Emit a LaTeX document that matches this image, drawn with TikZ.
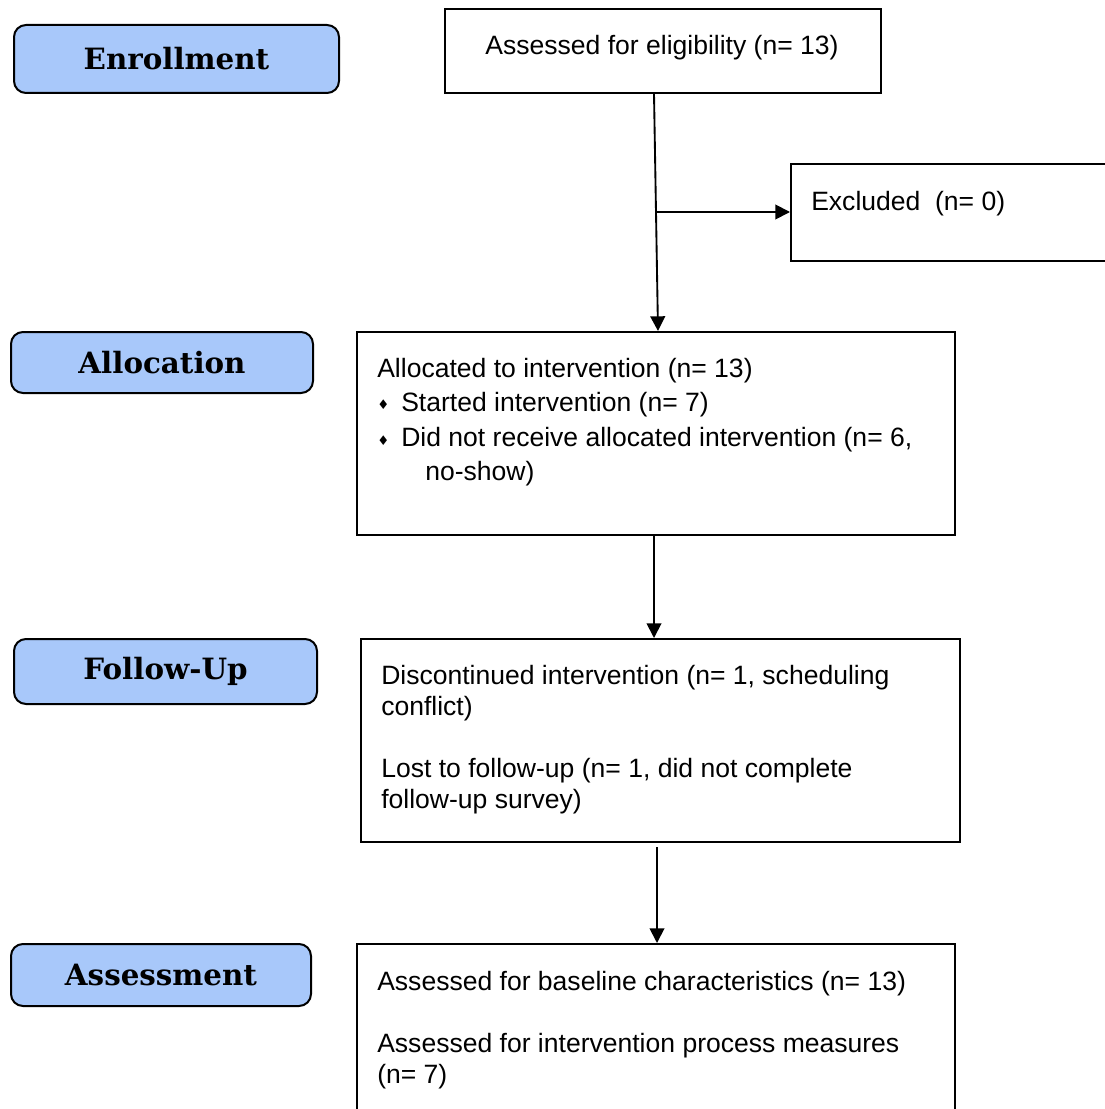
\documentclass[tikz,border=0pt]{standalone}
\usepackage{fontspec}
\setmainfont{Liberation Sans}
\newfontfamily\stagefont{DejaVu Serif}
\newfontfamily\symfont{DejaVu Sans}
\usetikzlibrary{arrows.meta}
\definecolor{stageblue}{HTML}{A8C8FA}
\newcommand{\diabullet}{\makebox[18pt][l]{\raisebox{1pt}{\symfont\fontsize{10}{10}\selectfont ♦}}}
\tikzset{
  stagebox/.style={draw=black, line width=1.5pt, fill=stageblue, rounded corners=9pt, anchor=north west, inner sep=0pt},
  stagetext/.style={font=\stagefont\bfseries\fontsize{22}{26}\selectfont, inner sep=0pt},
  flowbox/.style={draw=black, line width=1.4pt, anchor=north west, inner sep=0pt},
  flowtext/.style={font=\fontsize{19.9}{25.5}\selectfont, inner sep=0pt, anchor=base west},
  flowarrow/.style={line width=1.4pt, -{Triangle[length=11pt,width=11pt]}},
}
\begin{document}
\begin{tikzpicture}[x=0.75pt,y=-0.75pt]
\useasboundingbox (0,0) rectangle (1104,1109);
% stage boxes
\node[stagebox, minimum width=243.75pt, minimum height=51pt] (enr) at (13,24) {};
\node[stagetext] (enrt) at (enr.center) {Enrollment};
\node[stagebox, minimum width=226.5pt, minimum height=45.75pt] (all) at (10,331) {};
\node[stagetext] (allt) at (all.center) {Allocation};
\node[stagebox, minimum width=227.25pt, minimum height=48.75pt] (fol) at (13,638) {};
\node[stagetext] (folt) at (fol.center) {Follow-Up};
\node[stagebox, minimum width=225pt, minimum height=46.5pt] (ass) at (10,943) {};
\node[stagetext] (asst) at (ass.center) {Assessment};
% flow boxes
\node[flowbox, minimum width=327pt, minimum height=63pt] (elig) at (444,8) {};
\node[flowtext, anchor=base] (eligt) at (662,55) {Assessed for eligibility (n= 13)};
\node[flowbox, minimum width=247.5pt, minimum height=72.75pt] (excl) at (790,163) {};
\node[flowtext] (exclt) at (811,211) {Excluded\ \ (n= 0)};
\node[flowbox, minimum width=448.5pt, minimum height=152.25pt] (alloc) at (356,331) {};
\node[flowtext] (alloct) at (377,377) {\fontsize{19.9}{25.5}\selectfont
\begin{tabular}[t]{@{}l@{}}Allocated to intervention (n= 13)\\
\diabullet Started intervention (n= 7)\\[1pt]
\diabullet Did not receive allocated intervention (n= 6,\\
\hspace*{36pt}no-show)\end{tabular}};
\node[flowbox, minimum width=449.25pt, minimum height=152.25pt] (foll) at (360,638) {};
\node[flowtext] (follt) at (381,684) {\fontsize{19.9}{23.25}\selectfont
\begin{tabular}[t]{@{}l@{}}Discontinued intervention (n= 1, scheduling\\
conflict)\\[23.25pt]
Lost to follow-up (n= 1, did not complete\\
follow-up survey)\end{tabular}};
\node[flowbox, minimum width=448.5pt, minimum height=150pt] (asm) at (356,943) {};
\node[flowtext] (asmt) at (377,990) {\fontsize{19.9}{23.25}\selectfont
\begin{tabular}[t]{@{}l@{}}Assessed for baseline characteristics (n= 13)\\[23.25pt]
Assessed for intervention process measures\\
(n= 7)\end{tabular}};
% arrows
\coordinate (a0) at (elig.south -| 654,0);
\coordinate (a1) at (alloc.north -| 658,0);
\coordinate (br) at (655,212);
\draw[flowarrow] (a0) -- (a1);
\draw[flowarrow] (br) -- (excl.west |- br);
\coordinate (b0) at (alloc.south -| 654,0);
\coordinate (b1) at (foll.north -| 654,0);
\draw[flowarrow] (b0) -- (b1);
\coordinate (c0) at (657,847);
\coordinate (c1) at (asm.north -| 657,0);
\draw[flowarrow] (c0) -- (c1);
\end{tikzpicture}
\end{document}
